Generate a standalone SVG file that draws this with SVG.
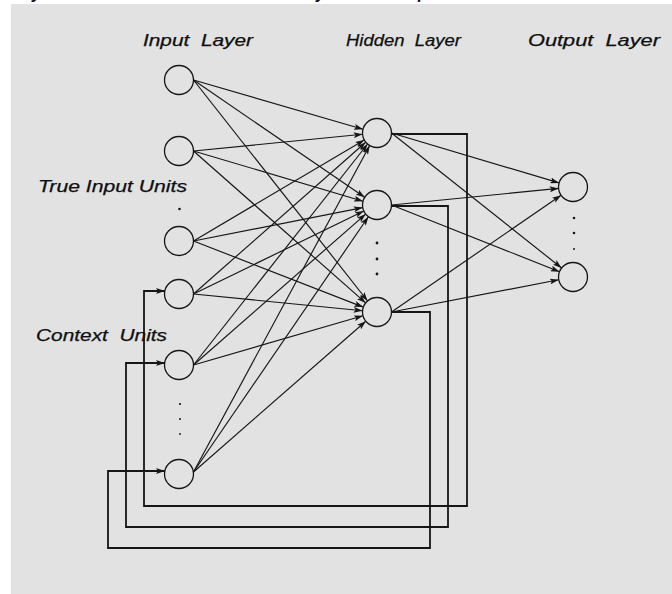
<svg xmlns="http://www.w3.org/2000/svg" width="672" height="594" viewBox="0 0 672 594">
  <style>
    .lbl { font-family: "Liberation Sans", Arial, sans-serif; font-style: italic; font-size: 16.5px; fill: #0f0f0f; stroke: #0f0f0f; stroke-width: 0.25; white-space: pre; }
    .frag { font-family: "Liberation Sans", Arial, sans-serif; font-style: italic; font-weight: bold; font-size: 16.5px; fill: #0f0f0f; }
    .unit { fill: #e2e2e2; stroke: #161616; stroke-width: 1.3; }
    .edge { fill: none; stroke: #161616; stroke-width: 1.15; marker-end: url(#head); }
    .loop { fill: none; stroke: #161616; stroke-width: 1.8; marker-end: url(#head); }
    .dot { fill: #161616; }
  </style>
  <defs>
    <marker id="head" markerUnits="userSpaceOnUse" markerWidth="10" markerHeight="6" refX="9" refY="3" orient="auto">
      <path d="M0,0 L9,3 L0,6 L2,3 z" fill="#161616"/>
    </marker>
  </defs>

  <!-- page -->
  <rect x="0" y="0" width="672" height="594" fill="#ffffff"/>
  <rect x="11" y="4" width="661" height="590" fill="#e2e2e2"/>
  <!-- descenders of the line above the frame -->
  <text class="frag" x="32" y="-1">y</text>
  <text class="frag" x="316" y="-1">y</text>
  <text class="frag" x="418" y="-1">p</text>

  <!-- captions -->
  <g id="captions">
    <text class="lbl" x="143" y="46" textLength="110" lengthAdjust="spacingAndGlyphs">Input  Layer</text>
    <text class="lbl" x="346" y="46" textLength="115" lengthAdjust="spacingAndGlyphs">Hidden  Layer</text>
    <text class="lbl" x="528" y="46" textLength="132" lengthAdjust="spacingAndGlyphs">Output  Layer</text>
    <text class="lbl" x="38" y="192" textLength="149" lengthAdjust="spacingAndGlyphs">True Input Units</text>
    <text class="lbl" x="36" y="341" textLength="131" lengthAdjust="spacingAndGlyphs">Context  Units</text>
  </g>

  <!-- connectors -->
  <g id="connectors">
    <!-- input -> hidden -->
    <path class="edge" d="M193.5,80 L363,129.3"/>
    <path class="edge" d="M193.5,80 L364.7,197.3"/>
    <path class="edge" d="M193.5,80 L367.6,301"/>
    <path class="edge" d="M193.5,151 L362.6,134.3"/>
    <path class="edge" d="M193.5,151 L363,201.2"/>
    <path class="edge" d="M193.5,151 L365.7,302.9"/>
    <path class="edge" d="M193.5,241 L364.3,139.9"/>
    <path class="edge" d="M193.5,241 L362.7,207.6"/>
    <path class="edge" d="M193.5,241 L363.3,307.1"/>
    <path class="edge" d="M193.5,294 L365.7,142.2"/>
    <path class="edge" d="M193.5,294 L363.8,211"/>
    <path class="edge" d="M193.5,294 L362.6,310.7"/>
    <path class="edge" d="M193.5,365 L367.6,144"/>
    <path class="edge" d="M193.5,365 L365.7,214.1"/>
    <path class="edge" d="M193.5,365 L363,315.8"/>
    <path class="edge" d="M193.5,472 L369.7,145.5"/>
    <path class="edge" d="M193.5,472 L368.4,216.7"/>
    <path class="edge" d="M193.5,472 L365.8,321.2"/>
    <!-- hidden -> output -->
    <path class="edge" d="M391.5,133 L559.1,182.9"/>
    <path class="edge" d="M391.5,133 L561.6,268"/>
    <path class="edge" d="M391.5,205 L558.6,188.4"/>
    <path class="edge" d="M391.5,205 L559.5,271.7"/>
    <path class="edge" d="M391.5,312 L561.1,195.2"/>
    <path class="edge" d="M391.5,312 L558.8,279.8"/>
    <!-- hidden -> context copies -->
    <path class="loop" d="M391.5,134 H467 V506 H144 V291 H165"/>
    <path class="loop" d="M391.5,206 H448 V527 H126 V363 H165"/>
    <path class="loop" d="M391.5,312 H430 V548 H108 V471 H165"/>
  </g>

  <!-- input layer -->
  <g id="input-layer">
    <circle id="in1" class="unit" cx="179" cy="80" r="14.5"/>
    <circle id="in2" class="unit" cx="179" cy="151" r="14.5"/>
    <circle id="in3" class="unit" cx="179" cy="241" r="14.5"/>
    <circle class="dot" cx="179.5" cy="209" r="1.3"/>
  </g>
  <g id="context-layer">
    <circle id="ctx1" class="unit" cx="179" cy="294" r="14.5"/>
    <circle id="ctx2" class="unit" cx="179" cy="365" r="14.5"/>
    <circle id="ctx3" class="unit" cx="179" cy="474" r="14.5"/>
    <circle class="dot" cx="180" cy="404" r="1.1"/>
    <circle class="dot" cx="180" cy="419" r="1"/>
    <circle class="dot" cx="180" cy="434" r="0.9"/>
  </g>

  <!-- hidden layer -->
  <g id="hidden-layer">
    <circle id="h1" class="unit" cx="377" cy="133" r="14.5"/>
    <circle id="h2" class="unit" cx="377" cy="205" r="14.5"/>
    <circle id="h3" class="unit" cx="377" cy="312" r="14.5"/>
    <circle class="dot" cx="377" cy="243" r="1.4"/>
    <circle class="dot" cx="377" cy="259" r="1.4"/>
    <circle class="dot" cx="377" cy="274" r="1.4"/>
  </g>

  <!-- output layer -->
  <g id="output-layer">
    <circle id="o1" class="unit" cx="573" cy="187" r="14.5"/>
    <circle id="o2" class="unit" cx="573" cy="277" r="14.5"/>
    <circle class="dot" cx="574" cy="218" r="1.3"/>
    <circle class="dot" cx="574" cy="233" r="1.3"/>
    <circle class="dot" cx="574" cy="249" r="1"/>
  </g>
</svg>
